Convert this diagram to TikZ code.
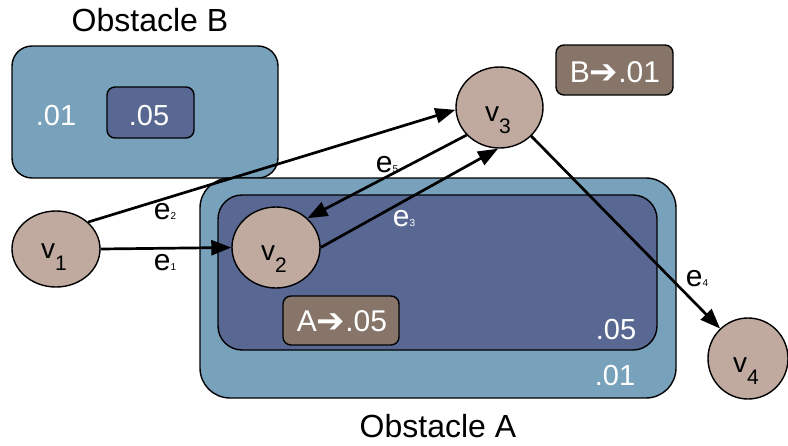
\documentclass[tikz,border=0pt]{standalone}
\usepackage{fontspec}
\setmainfont{Liberation Sans}
\newfontfamily\symfont{DejaVu Sans}
\usetikzlibrary{arrows.meta,shapes.geometric}
\definecolor{obsout}{RGB}{120,161,187}
\definecolor{obsin}{RGB}{88,104,146}
\definecolor{tagbox}{RGB}{135,117,106}
\definecolor{vert}{RGB}{192,170,160}
\newcommand{\fs}[1]{\fontsize{#1}{#1}\selectfont}
\newcommand{\vlab}[1]{\fs{28}v\raisebox{-12pt}{\fs{21}#1}}
\newcommand{\elab}[1]{\fs{30}e{\fs{10}#1}}
\newcommand{\arr}{{\symfont\bfseries\fs{34}\raisebox{-1pt}{➔}}}
\begin{document}
\begin{tikzpicture}[x=1pt,y=-1pt,
  box/.style={draw=black,line width=1.4pt,rounded corners=#1,inner sep=0pt},
  vnode/.style={ellipse,draw=black,line width=1.4pt,fill=vert,inner sep=0pt},
  edge/.style={line width=2.7pt,-{Triangle[length=20pt,width=15pt]}},
  wtxt/.style={text=white,anchor=base,inner sep=0pt},
  btxt/.style={text=black,anchor=base,inner sep=0pt}]
\useasboundingbox (0,0) rectangle (788,445);
% Obstacle B
\node[box=20pt,fill=obsout,minimum width=266pt,minimum height=132pt] (obB) at (145,112) {};
\node[box=8pt,fill=obsin,minimum width=87pt,minimum height=51pt] (obBin) at (150.5,112.5) {};
\node[wtxt] (tB01) at (56,125) {\fs{29}.01};
\node[wtxt] (tB05) at (149,125) {\fs{29}.05};
\node[btxt] (labB) at (150,31) {\fs{32}Obstacle B};
% Obstacle A
\node[box=30pt,fill=obsout,minimum width=476pt,minimum height=220pt] (obA) at (438,288) {};
\node[box=24pt,fill=obsin,minimum width=439pt,minimum height=155pt] (obAin) at (437.5,272.5) {};
\node[wtxt] (tA05) at (616,339) {\fs{29}.05};
\node[wtxt] (tA01) at (615,385) {\fs{29}.01};
\node[btxt] (labA) at (438,437) {\fs{32}Obstacle A};
% tags
\node[box=8pt,fill=tagbox,minimum width=116pt,minimum height=49pt] (tagA) at (341,320.5) {};
\node[wtxt] (tagAt) at (342,331) {\fs{30}A\arr.05};
\node[box=8pt,fill=tagbox,minimum width=117pt,minimum height=50pt] (tagB) at (614.5,70) {};
\node[wtxt] (tagBt) at (615,82) {\fs{30}B\arr.01};
% vertices
\node[vnode,minimum width=88pt,minimum height=76pt] (v1) at (56,249) {};
\node[vnode,minimum width=88pt,minimum height=81pt] (v2) at (276,247.5) {};
\node[vnode,minimum width=87pt,minimum height=81pt] (v3) at (499.5,107.5) {};
\node[vnode,minimum width=80pt,minimum height=81pt] (v4) at (748,358.5) {};
\node[btxt] (v1t) at (54,258) {\vlab{1}};
\node[btxt] (v2t) at (274,260) {\vlab{2}};
\node[btxt] (v3t) at (498,121) {\vlab{3}};
\node[btxt] (v4t) at (746,372) {\vlab{4}};
% edges
\draw[edge] (v1.east) -- (v2.west);
\draw[edge] (v1.40) -- (v3.183);
\draw[edge] (v3.220) -- (v2.43);
\draw[edge] (v2.east) -- (v3.268);
\draw[edge] (v3.-42) -- (v4.133);
% edge labels
\node[btxt] (e1) at (165,270) {\elab{1}};
\node[btxt] (e2) at (165,219) {\elab{2}};
\node[btxt] (e5) at (387,172) {\elab{5}};
\node[btxt,text=white] (e3) at (404,226) {\elab{3}};
\node[btxt] (e4) at (697,286) {\elab{4}};
\end{tikzpicture}
\end{document}
